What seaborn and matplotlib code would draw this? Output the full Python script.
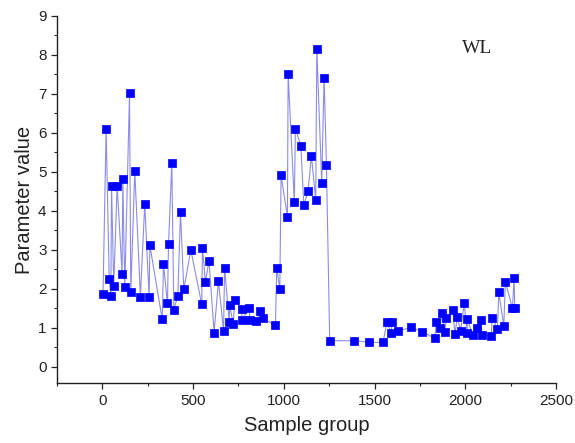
import pandas as pd
import matplotlib
matplotlib.use('Agg')
import matplotlib.pyplot as plt
import seaborn as sns
from matplotlib.ticker import MultipleLocator

# values
sample_group = [4, 21, 38, 47, 51, 63, 82, 109, 113, 124,
                150, 157, 179, 210, 234, 258, 262, 330, 337, 359,
                365, 383, 394, 416, 431, 449, 488, 548, 552, 568,
                588, 616, 640, 668, 674, 699, 702, 721, 730, 767,
                770, 809, 813, 849, 868, 886, 954, 961, 978, 985,
                1020, 1024, 1058, 1064, 1094, 1110, 1134, 1152, 1176, 1182,
                1209, 1222, 1235, 1253, 1387, 1470, 1547, 1569, 1591, 1597,
                1630, 1703, 1764, 1832, 1841, 1860, 1872, 1887, 1896, 1933,
                1942, 1957, 1974, 1994, 2010, 2012, 2040, 2065, 2084, 2093,
                2143, 2149, 2177, 2185, 2212, 2221, 2260, 2269, 2273]
param_value = [1.87, 6.11, 2.26, 1.82, 4.65, 2.08, 4.65, 2.38, 4.83, 2.04,
               7.03, 1.91, 5.02, 1.80, 4.18, 1.78, 3.12, 1.22, 2.63, 1.63,
               3.15, 5.24, 1.47, 1.82, 3.96, 1.99, 3.00, 1.60, 3.06, 2.17,
               2.72, 0.88, 2.20, 0.92, 2.54, 1.16, 1.58, 1.11, 1.71, 1.48,
               1.20, 1.51, 1.20, 1.17, 1.43, 1.24, 1.06, 2.54, 1.99, 4.91,
               3.85, 7.51, 4.22, 6.11, 5.67, 4.15, 4.51, 5.42, 4.28, 8.16,
               4.72, 7.42, 5.17, 0.67, 0.67, 0.63, 0.63, 1.16, 0.86, 1.14,
               0.92, 1.01, 0.90, 0.73, 1.14, 0.99, 1.39, 0.90, 1.24, 1.46,
               0.83, 1.28, 0.92, 1.63, 0.87, 1.22, 0.81, 0.99, 1.20, 0.81,
               0.80, 1.26, 0.97, 1.91, 1.04, 2.18, 1.50, 2.28, 1.50]
series_label = 'WL'

data = pd.DataFrame({'Sample group': sample_group, 'Parameter value': param_value})

sns.set_style('ticks')
plt.rcParams['font.family'] = ['Liberation Sans', 'DejaVu Sans']

fig = plt.figure(figsize=(5.75, 4.43), dpi=100)
ax = fig.add_axes([0.099, 0.135, 0.868, 0.829])

# thin connecting line, then the square markers
sns.lineplot(data=data, x='Sample group', y='Parameter value', estimator=None,
             sort=False, color='#8c8ce8', linewidth=0.8, ax=ax)
sns.scatterplot(data=data, x='Sample group', y='Parameter value', marker='s',
                s=38, color='#0000ff', edgecolor='#0000ff', linewidth=0.5,
                zorder=3, ax=ax)

ax.set_xlim(-250, 2500)
ax.set_ylim(-0.42, 9)
ax.xaxis.set_major_locator(MultipleLocator(500))
ax.xaxis.set_minor_locator(MultipleLocator(250))
ax.yaxis.set_major_locator(MultipleLocator(1))
ax.yaxis.set_minor_locator(MultipleLocator(0.5))
ax.set_yticks(range(0, 10))
ax.tick_params(which='major', direction='out', length=4.5, width=0.9,
               labelsize=11, colors='#222222', pad=3)
ax.tick_params(which='minor', direction='out', length=2.5, width=0.8)
for side in ['left', 'bottom']:
    ax.spines[side].set_linewidth(1.0)
    ax.spines[side].set_color('#222222')
sns.despine(ax=ax)

ax.set_xlabel('Sample group', fontsize=14.5, labelpad=6, color='#222222')
ax.set_ylabel('Parameter value', fontsize=14.5, labelpad=3, color='#222222')

ax.text(1980, 8.17, series_label, fontsize=14, va='center', ha='left',
        family=['Liberation Serif', 'DejaVu Serif'], color='#222222')

fig.savefig('out.png', dpi=100)
